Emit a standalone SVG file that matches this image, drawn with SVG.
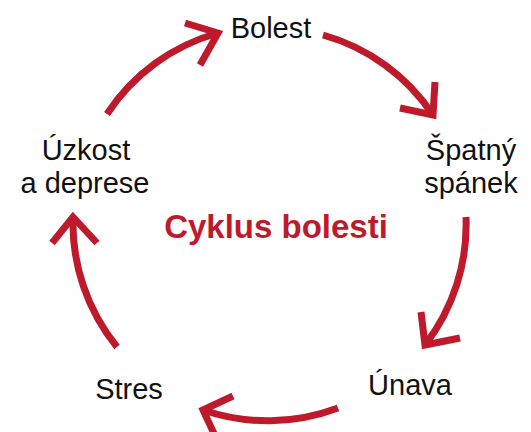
<svg xmlns="http://www.w3.org/2000/svg" width="531" height="432" viewBox="0 0 531 432">
<style>
.lbl{font-family:"Liberation Sans",Arial,sans-serif;font-size:29px;fill:#111;text-anchor:middle}
.title{font-family:"Liberation Sans",Arial,sans-serif;font-size:33px;font-weight:bold;fill:#BE1A2B;text-anchor:middle}
.arc{fill:none;stroke:#BE1A2B;stroke-width:7}
</style>
<rect width="531" height="432" fill="#fff"/>
<g id="connectors">
<path class="arc" d="M107,114 A195,195 0 0 1 218,33"/>
<polyline class="arc" points="185,23 218,33 200,65"/>
<path class="arc" d="M323,35 A195,195 0 0 1 433,115"/>
<polyline class="arc" points="400,108 433,115 435,82"/>
<path class="arc" d="M466,217 A197,197 0 0 1 425,345"/>
<polyline class="arc" points="421,312 425,345 460,338"/>
<path class="arc" d="M338,408 A200,200 0 0 1 203,410"/>
<polyline class="arc" points="233,396 203,410 217,440"/>
<path class="arc" d="M117,347 A197,197 0 0 1 73,217"/>
<polyline class="arc" points="52,243 73,217 97,243"/>
</g>
<g id="bolest"><text class="lbl" x="271" y="38">Bolest</text></g>
<g id="spatny-spanek"><text class="lbl" x="471" y="160">Špatný</text><text class="lbl" x="471" y="193">spánek</text></g>
<g id="unava"><text class="lbl" x="410" y="395">Únava</text></g>
<g id="stres"><text class="lbl" x="129" y="399">Stres</text></g>
<g id="uzkost"><text class="lbl" x="86" y="160">Úzkost</text><text class="lbl" x="85" y="193">a deprese</text></g>
<g id="title"><text class="title" x="276" y="238">Cyklus bolesti</text></g>
</svg>
